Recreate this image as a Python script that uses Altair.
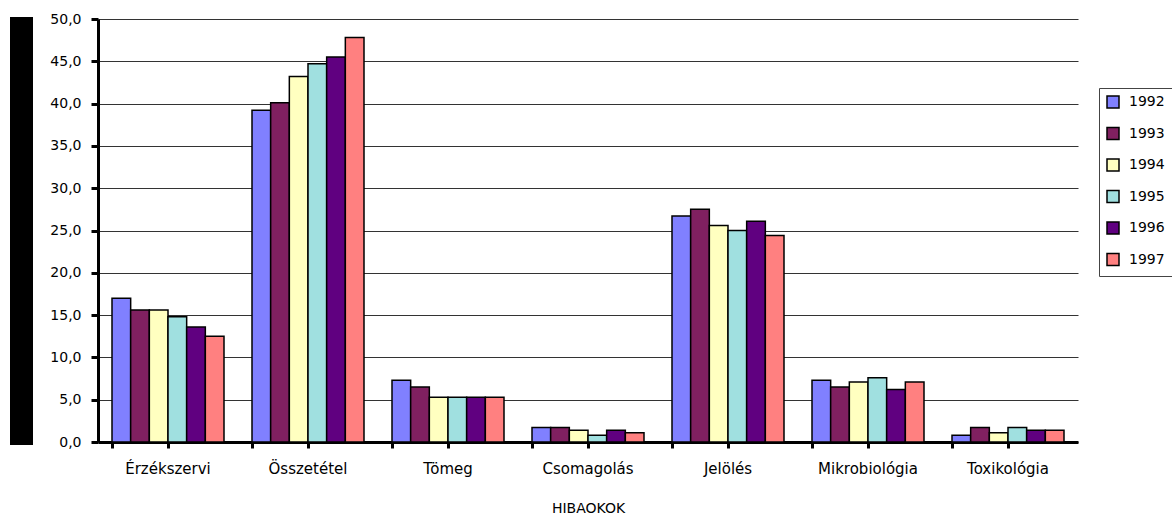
import altair as alt
import pandas as pd

categories = ["Érzékszervi", "Összetétel", "Tömeg", "Csomagolás", "Jelölés", "Mikrobiológia", "Toxikológia"]
years = ["1992", "1993", "1994", "1995", "1996", "1997"]
values = {
    "1992": [17.0, 39.2, 7.3, 1.7, 26.7, 7.3, 0.8],
    "1993": [15.6, 40.1, 6.5, 1.7, 27.5, 6.5, 1.7],
    "1994": [15.6, 43.2, 5.3, 1.4, 25.6, 7.1, 1.1],
    "1995": [14.8, 44.7, 5.3, 0.8, 25.0, 7.6, 1.7],
    "1996": [13.6, 45.5, 5.3, 1.4, 26.1, 6.2, 1.4],
    "1997": [12.5, 47.8, 5.3, 1.1, 24.4, 7.1, 1.4],
}
colors = ["#8080FF", "#802060", "#FFFFC0", "#A0E0E0", "#600080", "#FF8080"]
y_ticks = [0, 5, 10, 15, 20, 25, 30, 35, 40, 45, 50]

rows = []
for y in years:
    for c, v in zip(categories, values[y]):
        rows.append({"cat": c, "year": y, "value": v})
df = pd.DataFrame(rows)

FONT = "DejaVu Sans"
FS = 14

xscale = alt.Scale(domain=categories, paddingInner=0.2, paddingOuter=0.1)

bars = alt.Chart(df).mark_bar(stroke="black", strokeWidth=1.5).encode(
    x=alt.X("cat:N", sort=categories, scale=xscale,
            axis=alt.Axis(title="HIBAOKOK", labelAngle=0, domainWidth=3, domainColor="black",
                          tickWidth=3, tickColor="black", tickSize=6, labelPadding=13,
                          labelFontSize=15, labelFont=FONT, labelColor="black",
                          titleFont=FONT, titleFontSize=FS, titleFontWeight="normal",
                          titleColor="black", titlePadding=25, grid=False)),
    xOffset=alt.XOffset("year:N", sort=years, scale=alt.Scale(paddingInner=0, paddingOuter=0)),
    y=alt.Y("value:Q", scale=alt.Scale(domain=[0, 50], nice=False),
            axis=alt.Axis(title=None, values=y_ticks,
                          labelExpr="replace(format(datum.value, '.1f'), '.', ',')",
                          labelFontSize=FS, labelFont=FONT, labelColor="black", labelPadding=10,
                          domainWidth=3, domainColor="black", tickWidth=3, tickColor="black",
                          tickSize=7, grid=True, gridColor="#333", gridWidth=1)),
    color=alt.Color("year:N", sort=years, scale=alt.Scale(domain=years, range=colors),
                    legend=alt.Legend(title=None, orient="none", legendX=1001, legendY=69,
                                      symbolType="square", symbolSize=144, symbolStrokeColor="black",
                                      symbolStrokeWidth=1.5, labelFontSize=FS, labelFont=FONT,
                                      labelColor="black", rowPadding=13.5, padding=7,
                                      strokeColor="#444", labelOffset=9)),
)

ticks2 = alt.Chart(df).mark_bar(opacity=0).encode(
    x=alt.X("cat:N", sort=categories, scale=xscale,
            axis=alt.Axis(title=None, labels=False, domain=False, grid=False, bandPosition=0,
                          tickWidth=3, tickColor="black", tickSize=6, orient="bottom")),
    y=alt.Y("value:Q"),
)

blk = alt.Chart(pd.DataFrame({"a": [0]})).mark_rect(color="black", clip=False).encode(
    x=alt.value(-88), x2=alt.value(-65), y=alt.value(-2), y2=alt.value(426)
)

chart = alt.layer(bars, ticks2, blk).resolve_axis(x="independent").properties(
    width=980, height=423,
    autosize=alt.AutoSizeParams(type="none"),
    padding={"left": 98, "top": 19, "right": 94, "bottom": 75},
    background="white",
).configure_view(stroke=None)

chart.save("out.html", embed_options={"renderer": "svg", "actions": False})
